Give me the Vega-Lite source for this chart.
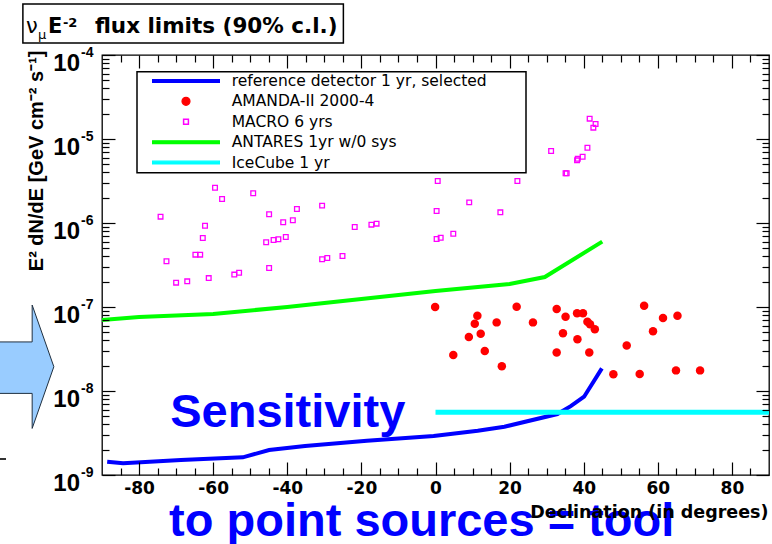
{
  "$schema": "https://vega.github.io/schema/vega-lite/v6.json",
  "width": 667,
  "height": 420,
  "autosize": {"type": "none"},
  "padding": {"left": 102, "top": 55, "right": 3, "bottom": 69},
  "background": "white",
  "datasets": {
    "ref": [
      {"series": "reference detector 1 yr, selected", "dec": -88.6, "flux": 1.439e-9},
      {"series": "reference detector 1 yr, selected", "dec": -84.3, "flux": 1.377e-9},
      {"series": "reference detector 1 yr, selected", "dec": -68.7, "flux": 1.51e-9},
      {"series": "reference detector 1 yr, selected", "dec": -52, "flux": 1.622e-9},
      {"series": "reference detector 1 yr, selected", "dec": -44.9, "flux": 1.986e-9},
      {"series": "reference detector 1 yr, selected", "dec": -35.2, "flux": 2.213e-9},
      {"series": "reference detector 1 yr, selected", "dec": -18.5, "flux": 2.564e-9},
      {"series": "reference detector 1 yr, selected", "dec": -0.5, "flux": 2.911e-9},
      {"series": "reference detector 1 yr, selected", "dec": 11.4, "flux": 3.373e-9},
      {"series": "reference detector 1 yr, selected", "dec": 18.6, "flux": 3.758e-9},
      {"series": "reference detector 1 yr, selected", "dec": 32.9, "flux": 5.32e-9},
      {"series": "reference detector 1 yr, selected", "dec": 36.5, "flux": 6.6e-9},
      {"series": "reference detector 1 yr, selected", "dec": 40.1, "flux": 8.55e-9},
      {"series": "reference detector 1 yr, selected", "dec": 44.9, "flux": 1.862e-8}
    ],
    "antares": [
      {"series": "ANTARES 1yr w/0 sys", "dec": -90, "flux": 7.0e-8},
      {"series": "ANTARES 1yr w/0 sys", "dec": -80, "flux": 7.6e-8},
      {"series": "ANTARES 1yr w/0 sys", "dec": -60, "flux": 8.26e-8},
      {"series": "ANTARES 1yr w/0 sys", "dec": -40, "flux": 1.0e-7},
      {"series": "ANTARES 1yr w/0 sys", "dec": -20, "flux": 1.245e-7},
      {"series": "ANTARES 1yr w/0 sys", "dec": 0, "flux": 1.549e-7},
      {"series": "ANTARES 1yr w/0 sys", "dec": 20, "flux": 1.879e-7},
      {"series": "ANTARES 1yr w/0 sys", "dec": 29.5, "flux": 2.275e-7},
      {"series": "ANTARES 1yr w/0 sys", "dec": 45, "flux": 6.0e-7}
    ],
    "icecube": [
      {"series": "IceCube 1 yr", "dec": 0, "flux": 5.57e-9},
      {"series": "IceCube 1 yr", "dec": 90, "flux": 5.57e-9}
    ],
    "amanda": [
      {"series": "AMANDA-II 2000-4", "dec": -0.1, "flux": 1.0e-7},
      {"series": "AMANDA-II 2000-4", "dec": 11.3, "flux": 7.87e-8},
      {"series": "AMANDA-II 2000-4", "dec": 10.6, "flux": 6.32e-8},
      {"series": "AMANDA-II 2000-4", "dec": 16.5, "flux": 6.56e-8},
      {"series": "AMANDA-II 2000-4", "dec": 21.9, "flux": 1.009e-7},
      {"series": "AMANDA-II 2000-4", "dec": 26.3, "flux": 6.56e-8},
      {"series": "AMANDA-II 2000-4", "dec": 9.0, "flux": 4.40e-8},
      {"series": "AMANDA-II 2000-4", "dec": 12.2, "flux": 4.81e-8},
      {"series": "AMANDA-II 2000-4", "dec": 4.8, "flux": 2.69e-8},
      {"series": "AMANDA-II 2000-4", "dec": 13.3, "flux": 2.99e-8},
      {"series": "AMANDA-II 2000-4", "dec": 17.9, "flux": 1.97e-8},
      {"series": "AMANDA-II 2000-4", "dec": 32.7, "flux": 9.46e-8},
      {"series": "AMANDA-II 2000-4", "dec": 35.1, "flux": 7.67e-8},
      {"series": "AMANDA-II 2000-4", "dec": 38.2, "flux": 8.41e-8},
      {"series": "AMANDA-II 2000-4", "dec": 39.8, "flux": 8.41e-8},
      {"series": "AMANDA-II 2000-4", "dec": 41.0, "flux": 6.68e-8},
      {"series": "AMANDA-II 2000-4", "dec": 41.7, "flux": 6.22e-8},
      {"series": "AMANDA-II 2000-4", "dec": 43.0, "flux": 5.42e-8},
      {"series": "AMANDA-II 2000-4", "dec": 34.4, "flux": 4.86e-8},
      {"series": "AMANDA-II 2000-4", "dec": 38.3, "flux": 4.12e-8},
      {"series": "AMANDA-II 2000-4", "dec": 32.7, "flux": 2.88e-8},
      {"series": "AMANDA-II 2000-4", "dec": 41.5, "flux": 2.88e-8},
      {"series": "AMANDA-II 2000-4", "dec": 56.3, "flux": 1.038e-7},
      {"series": "AMANDA-II 2000-4", "dec": 61.4, "flux": 7.40e-8},
      {"series": "AMANDA-II 2000-4", "dec": 65.3, "flux": 7.87e-8},
      {"series": "AMANDA-II 2000-4", "dec": 58.7, "flux": 5.13e-8},
      {"series": "AMANDA-II 2000-4", "dec": 51.6, "flux": 3.47e-8},
      {"series": "AMANDA-II 2000-4", "dec": 48.0, "flux": 1.58e-8},
      {"series": "AMANDA-II 2000-4", "dec": 55.1, "flux": 1.59e-8},
      {"series": "AMANDA-II 2000-4", "dec": 64.9, "flux": 1.76e-8},
      {"series": "AMANDA-II 2000-4", "dec": 71.4, "flux": 1.76e-8}
    ],
    "macro": [
      {"series": "MACRO 6 yrs", "dec": -59.5, "flux": 2.63e-6},
      {"series": "MACRO 6 yrs", "dec": -57.6, "flux": 1.93e-6},
      {"series": "MACRO 6 yrs", "dec": -49.2, "flux": 2.26e-6},
      {"series": "MACRO 6 yrs", "dec": -74.2, "flux": 1.19e-6},
      {"series": "MACRO 6 yrs", "dec": -44.9, "flux": 1.27e-6},
      {"series": "MACRO 6 yrs", "dec": -37.4, "flux": 1.47e-6},
      {"series": "MACRO 6 yrs", "dec": -30.6, "flux": 1.61e-6},
      {"series": "MACRO 6 yrs", "dec": -62.2, "flux": 9.29e-7},
      {"series": "MACRO 6 yrs", "dec": -41.1, "flux": 1.02e-6},
      {"series": "MACRO 6 yrs", "dec": -38.5, "flux": 1.08e-6},
      {"series": "MACRO 6 yrs", "dec": -21.8, "flux": 8.95e-7},
      {"series": "MACRO 6 yrs", "dec": -17.3, "flux": 9.55e-7},
      {"series": "MACRO 6 yrs", "dec": -15.9, "flux": 9.82e-7},
      {"series": "MACRO 6 yrs", "dec": -62.8, "flux": 6.62e-7},
      {"series": "MACRO 6 yrs", "dec": -45.7, "flux": 5.89e-7},
      {"series": "MACRO 6 yrs", "dec": -43.7, "flux": 6.28e-7},
      {"series": "MACRO 6 yrs", "dec": -42.4, "flux": 6.40e-7},
      {"series": "MACRO 6 yrs", "dec": -40.4, "flux": 6.81e-7},
      {"series": "MACRO 6 yrs", "dec": -64.8, "flux": 4.20e-7},
      {"series": "MACRO 6 yrs", "dec": -63.5, "flux": 4.20e-7},
      {"series": "MACRO 6 yrs", "dec": -72.6, "flux": 3.50e-7},
      {"series": "MACRO 6 yrs", "dec": -30.6, "flux": 3.70e-7},
      {"series": "MACRO 6 yrs", "dec": -29.2, "flux": 3.83e-7},
      {"series": "MACRO 6 yrs", "dec": -25.1, "flux": 4.05e-7},
      {"series": "MACRO 6 yrs", "dec": -44.9, "flux": 2.91e-7},
      {"series": "MACRO 6 yrs", "dec": -70.0, "flux": 1.95e-7},
      {"series": "MACRO 6 yrs", "dec": -67.0, "flux": 2.02e-7},
      {"series": "MACRO 6 yrs", "dec": -61.2, "flux": 2.21e-7},
      {"series": "MACRO 6 yrs", "dec": -54.3, "flux": 2.43e-7},
      {"series": "MACRO 6 yrs", "dec": -53.0, "flux": 2.56e-7},
      {"series": "MACRO 6 yrs", "dec": 41.6, "flux": 1.746e-5},
      {"series": "MACRO 6 yrs", "dec": 43.2, "flux": 1.51e-5},
      {"series": "MACRO 6 yrs", "dec": 42.6, "flux": 1.365e-5},
      {"series": "MACRO 6 yrs", "dec": 41.0, "flux": 7.87e-6},
      {"series": "MACRO 6 yrs", "dec": 31.2, "flux": 7.19e-6},
      {"series": "MACRO 6 yrs", "dec": 39.7, "flux": 6.15e-6},
      {"series": "MACRO 6 yrs", "dec": 38.4, "flux": 5.82e-6},
      {"series": "MACRO 6 yrs", "dec": 38.2, "flux": 5.57e-6},
      {"series": "MACRO 6 yrs", "dec": 35.1, "flux": 3.91e-6},
      {"series": "MACRO 6 yrs", "dec": 35.4, "flux": 3.91e-6},
      {"series": "MACRO 6 yrs", "dec": 0.6, "flux": 3.16e-6},
      {"series": "MACRO 6 yrs", "dec": 22.1, "flux": 3.16e-6},
      {"series": "MACRO 6 yrs", "dec": 9.1, "flux": 1.76e-6},
      {"series": "MACRO 6 yrs", "dec": 0.3, "flux": 1.39e-6},
      {"series": "MACRO 6 yrs", "dec": 17.5, "flux": 1.34e-6},
      {"series": "MACRO 6 yrs", "dec": 4.8, "flux": 7.46e-7},
      {"series": "MACRO 6 yrs", "dec": 0.3, "flux": 6.46e-7},
      {"series": "MACRO 6 yrs", "dec": 1.4, "flux": 6.68e-7}
    ],
    "ylab": [
      {"flux": 1e-4, "base": "10", "exp": "-4"},
      {"flux": 1e-5, "base": "10", "exp": "-5"},
      {"flux": 1e-6, "base": "10", "exp": "-6"},
      {"flux": 1e-7, "base": "10", "exp": "-7"},
      {"flux": 1e-8, "base": "10", "exp": "-8"},
      {"flux": 1e-9, "base": "10", "exp": "-9"}
    ],
    "annot": [
      {"dec": -71.6, "flux": 3.73e-9, "label": "Sensitivity"},
      {"dec": -71.9, "flux": 1.88e-10, "label": "to point sources = tool"}
    ],
    "tbox": [
      {"x1": -111.35, "x2": -24.86, "y1": 4.05e-4, "y2": 1.39e-4}
    ],
    "arrow": [
      {"dec": -110.27, "flux": 1.945e-8}
    ],
    "dash": [
      {"dec": -117.8, "dec2": -115.9, "flux": 1.55e-9}
    ]
  },
  "layer": [
    {
      "data": {"name": "ref"},
      "mark": {"type": "line", "strokeWidth": 4},
      "encoding": {
        "x": {"field": "dec", "type": "quantitative", "scale": {"domain": [-90, 90], "nice": false, "zero": false},
          "axis": {"orient": "bottom", "offset": -13, "values": [-80, -60, -40, -20, 0, 20, 40, 60, 80], "ticks": true, "tickSize": 13, "tickColor": "#000000", "tickOpacity": 1, "tickWidth": 1.2, "zindex": 1, "domain": false, "labels": true, "labelExpr": "'' + datum.value", "labelFont": "DejaVu Sans", "labelFontWeight": "bold", "labelFontSize": 17, "labelColor": "#000", "labelPadding": 5, "labelFlush": false, "labelOverlap": false, "grid": false,
            "title": "Declination (in degrees)", "titleFont": "DejaVu Sans", "titleFontWeight": "bold", "titleFontSize": 17.5, "titleColor": "#000", "titleAlign": "right", "titleBaseline": "alphabetic", "titleX": 666, "titleY": 55}},
        "y": {"field": "flux", "type": "quantitative", "scale": {"type": "log", "domain": [1e-9, 1e-4], "nice": false},
          "axis": {"orient": "left", "offset": -13, "values": [1e-9, 1e-8, 1e-7, 1e-6, 1e-5, 1e-4], "ticks": true, "tickSize": 13, "tickColor": "#000000", "tickOpacity": 1, "tickWidth": 1.2, "zindex": 1, "domain": false, "labels": false, "grid": false,
            "title": "E² dN/dE [GeV cm⁻² s⁻¹]", "titleFont": "Liberation Sans", "titleFontWeight": "bold", "titleFontSize": 20, "titleColor": "#000", "titleAngle": 270, "titleAlign": "right", "titleBaseline": "middle", "titleX": -79, "titleY": -5}},
        "color": {"field": "series", "type": "nominal",
          "scale": {"domain": ["reference detector 1 yr, selected", "AMANDA-II 2000-4", "MACRO 6 yrs", "ANTARES 1yr w/0 sys", "IceCube 1 yr"], "range": ["#0000ff", "#ff0000", "#ff00ff", "#00ff00", "#00ffff"]},
          "legend": {
            "orient": "none", "legendX": 35, "legendY": 16.7,
            "title": "\u00a0", "titleOrient": "right", "titleFontSize": 2, "titlePadding": 38,
            "padding": 1.5, "strokeColor": "#000", "fillColor": "#ffffff",
            "symbolSize": 100, "symbolStrokeWidth": 1.2, "symbolOffset": 39.75, "labelOffset": 38,
            "rowPadding": 3.4, "labelFont": "DejaVu Sans", "labelFontSize": 15.5, "labelColor": "#000", "labelLimit": 500,
            "encoding": {
              "legend": {"strokeWidth": {"value": 1.5}},
              "symbols": {
                "shape": {"condition": [
                  {"test": "datum.value === 'AMANDA-II 2000-4'", "value": "M0.8,0A0.8,0.8,0,1,1,-0.8,0A0.8,0.8,0,1,1,0.8,0Z"},
                  {"test": "datum.value === 'MACRO 6 yrs'", "value": "M-0.51,-0.51H0.51V0.51H-0.51Z M-0.45,-0.45V0.45H0.45V-0.45Z"}
                ], "value": "M-6.68,-0.28H6.68V0.28H-6.68Z"},
                "fill": {"condition": [
                  {"test": "datum.value === 'MACRO 6 yrs'", "value": "#ffffff"},
                  {"test": "datum.value === 'AMANDA-II 2000-4'", "value": "#ff0000"},
                  {"test": "datum.value === 'ANTARES 1yr w/0 sys'", "value": "#00ff00"},
                  {"test": "datum.value === 'IceCube 1 yr'", "value": "#00ffff"}
                ], "value": "#0000ff"},
                "stroke": {"condition": [
                  {"test": "datum.value === 'MACRO 6 yrs'", "value": "#ff00ff"},
                  {"test": "datum.value === 'AMANDA-II 2000-4'", "value": "#ff0000"},
                  {"test": "datum.value === 'ANTARES 1yr w/0 sys'", "value": "#00ff00"},
                  {"test": "datum.value === 'IceCube 1 yr'", "value": "#00ffff"}
                ], "value": "#0000ff"},
                "strokeWidth": {"value": 1.2},
                "size": {"value": 100},
                "opacity": {"value": 1},
                "fillOpacity": {"value": 1},
                "strokeOpacity": {"value": 1}
              }
            }
          }
        }
      }
    },
    {
      "data": {"name": "antares"},
      "mark": {"type": "line", "strokeWidth": 4},
      "encoding": {
        "x": {"field": "dec", "type": "quantitative", "scale": {"domain": [-90, 90], "nice": false, "zero": false},
          "axis": {"orient": "bottom", "offset": -7, "values": [-85, -75, -70, -65, -55, -50, -45, -35, -30, -25, -15, -10, -5, 5, 10, 15, 25, 30, 35, 45, 50, 55, 65, 70, 75, 85], "ticks": true, "tickSize": 7, "tickColor": "#000000", "tickOpacity": 1, "tickWidth": 1.2, "zindex": 1, "domain": false, "labels": false, "grid": false, "title": null}},
        "y": {"field": "flux", "type": "quantitative", "scale": {"type": "log", "domain": [1e-9, 1e-4], "nice": false},
          "axis": {"orient": "left", "offset": -7, "values": [2e-9, 3e-9, 4e-9, 5e-9, 6e-9, 7e-9, 8e-9, 9e-9, 2e-8, 3e-8, 4e-8, 5e-8, 6e-8, 7e-8, 8e-8, 9e-8, 2e-7, 3e-7, 4e-7, 5e-7, 6e-7, 7e-7, 8e-7, 9e-7, 2e-6, 3e-6, 4e-6, 5e-6, 6e-6, 7e-6, 8e-6, 9e-6, 2e-5, 3e-5, 4e-5, 5e-5, 6e-5, 7e-5, 8e-5, 9e-5], "ticks": true, "tickSize": 7, "tickColor": "#000000", "tickOpacity": 1, "tickWidth": 1.2, "zindex": 1, "domain": false, "labels": false, "grid": false, "title": null}},
        "color": {"field": "series", "type": "nominal", "legend": null}
      }
    },
    {
      "data": {"name": "icecube"},
      "mark": {"type": "line", "strokeWidth": 5},
      "encoding": {
        "x": {"field": "dec", "type": "quantitative", "scale": {"domain": [-90, 90], "nice": false, "zero": false},
          "axis": {"orient": "top", "offset": -13, "values": [-80, -60, -40, -20, 0, 20, 40, 60, 80], "ticks": true, "tickSize": 13, "tickColor": "#000000", "tickOpacity": 1, "tickWidth": 1.2, "zindex": 1, "domain": false, "labels": false, "grid": false, "title": null}},
        "y": {"field": "flux", "type": "quantitative", "scale": {"type": "log", "domain": [1e-9, 1e-4], "nice": false},
          "axis": {"orient": "right", "offset": -13, "values": [1e-9, 1e-8, 1e-7, 1e-6, 1e-5, 1e-4], "ticks": true, "tickSize": 13, "tickColor": "#000000", "tickOpacity": 1, "tickWidth": 1.2, "zindex": 1, "domain": false, "labels": false, "grid": false, "title": null}},
        "color": {"field": "series", "type": "nominal", "legend": null}
      }
    },
    {
      "data": {"name": "amanda"},
      "mark": {"type": "point", "shape": "circle", "filled": true, "size": 72, "opacity": 1},
      "encoding": {
        "x": {"field": "dec", "type": "quantitative", "scale": {"domain": [-90, 90], "nice": false, "zero": false},
          "axis": {"orient": "top", "offset": -7, "values": [-85, -75, -70, -65, -55, -50, -45, -35, -30, -25, -15, -10, -5, 5, 10, 15, 25, 30, 35, 45, 50, 55, 65, 70, 75, 85], "ticks": true, "tickSize": 7, "tickColor": "#000000", "tickOpacity": 1, "tickWidth": 1.2, "zindex": 1, "domain": false, "labels": false, "grid": false, "title": null}},
        "y": {"field": "flux", "type": "quantitative", "scale": {"type": "log", "domain": [1e-9, 1e-4], "nice": false},
          "axis": {"orient": "right", "offset": -7, "values": [2e-9, 3e-9, 4e-9, 5e-9, 6e-9, 7e-9, 8e-9, 9e-9, 2e-8, 3e-8, 4e-8, 5e-8, 6e-8, 7e-8, 8e-8, 9e-8, 2e-7, 3e-7, 4e-7, 5e-7, 6e-7, 7e-7, 8e-7, 9e-7, 2e-6, 3e-6, 4e-6, 5e-6, 6e-6, 7e-6, 8e-6, 9e-6, 2e-5, 3e-5, 4e-5, 5e-5, 6e-5, 7e-5, 8e-5, 9e-5], "ticks": true, "tickSize": 7, "tickColor": "#000000", "tickOpacity": 1, "tickWidth": 1.2, "zindex": 1, "domain": false, "labels": false, "grid": false, "title": null}},
        "color": {"field": "series", "type": "nominal", "legend": null}
      }
    },
    {
      "data": {"name": "macro"},
      "mark": {"type": "point", "shape": "square", "filled": false, "size": 22, "strokeWidth": 1.3, "opacity": 1},
      "encoding": {
        "x": {"field": "dec", "type": "quantitative", "axis": null},
        "y": {"field": "flux", "type": "quantitative", "axis": null},
        "color": {"field": "series", "type": "nominal", "legend": null}
      }
    },
    {
      "data": {"name": "arrow"},
      "mark": {"type": "point", "shape": "M-0.7,-0.4L0.085,-0.4L0.085,-0.995L0.435,0L0.085,0.995L0.085,0.43L-0.7,0.43Z", "size": 15376, "filled": true, "fill": "#99ccff", "stroke": "#203040", "strokeWidth": 1, "opacity": 1},
      "encoding": {
        "x": {"field": "dec", "type": "quantitative", "axis": null},
        "y": {"field": "flux", "type": "quantitative", "axis": null}
      }
    },
    {
      "data": {"name": "dash"},
      "mark": {"type": "rule", "stroke": "#333333", "strokeWidth": 2},
      "encoding": {
        "x": {"field": "dec", "type": "quantitative", "axis": null},
        "x2": {"field": "dec2"},
        "y": {"field": "flux", "type": "quantitative", "axis": null}
      }
    },
    {
      "data": {"name": "tbox"},
      "mark": {"type": "rect", "fill": "#ffffff", "stroke": "#000000", "strokeWidth": 1.5},
      "encoding": {
        "x": {"field": "x1", "type": "quantitative", "axis": null},
        "x2": {"field": "x2"},
        "y": {"field": "y1", "type": "quantitative", "axis": null},
        "y2": {"field": "y2"}
      }
    },
    {
      "data": {"name": "tbox"},
      "mark": {"type": "text", "text": "ν", "font": "DejaVu Sans", "fontSize": 21, "align": "left", "baseline": "alphabetic", "dx": 3, "dy": -10, "color": "#000"},
      "encoding": {
        "x": {"field": "x1", "type": "quantitative", "axis": null},
        "y": {"field": "y2", "type": "quantitative", "axis": null}
      }
    },
    {
      "data": {"name": "tbox"},
      "mark": {"type": "text", "text": "μ", "font": "DejaVu Sans", "fontSize": 13, "align": "left", "baseline": "alphabetic", "dx": 15, "dy": -4, "color": "#000"},
      "encoding": {
        "x": {"field": "x1", "type": "quantitative", "axis": null},
        "y": {"field": "y2", "type": "quantitative", "axis": null}
      }
    },
    {
      "data": {"name": "tbox"},
      "mark": {"type": "text", "text": "E", "font": "DejaVu Sans", "fontWeight": "bold", "fontSize": 21, "align": "left", "baseline": "alphabetic", "dx": 25, "dy": -10, "color": "#000"},
      "encoding": {
        "x": {"field": "x1", "type": "quantitative", "axis": null},
        "y": {"field": "y2", "type": "quantitative", "axis": null}
      }
    },
    {
      "data": {"name": "tbox"},
      "mark": {"type": "text", "text": "-2", "font": "DejaVu Sans", "fontWeight": "bold", "fontSize": 13, "align": "left", "baseline": "alphabetic", "dx": 40, "dy": -16, "color": "#000"},
      "encoding": {
        "x": {"field": "x1", "type": "quantitative", "axis": null},
        "y": {"field": "y2", "type": "quantitative", "axis": null}
      }
    },
    {
      "data": {"name": "tbox"},
      "mark": {"type": "text", "text": "flux limits (90% c.l.)", "font": "DejaVu Sans", "fontWeight": "bold", "fontSize": 21.5, "align": "left", "baseline": "alphabetic", "dx": 72, "dy": -10, "color": "#000"},
      "encoding": {
        "x": {"field": "x1", "type": "quantitative", "axis": null},
        "y": {"field": "y2", "type": "quantitative", "axis": null}
      }
    },
    {
      "data": {"name": "ylab"},
      "mark": {"type": "text", "font": "Liberation Sans", "fontWeight": "bold", "fontSize": 24, "align": "right", "baseline": "alphabetic", "dx": -22, "dy": 16, "color": "#000"},
      "encoding": {
        "x": {"datum": -90, "type": "quantitative", "axis": null},
        "y": {"field": "flux", "type": "quantitative", "axis": null},
        "text": {"field": "base"}
      }
    },
    {
      "data": {"name": "ylab"},
      "mark": {"type": "text", "font": "Liberation Sans", "fontWeight": "bold", "fontSize": 14, "align": "left", "baseline": "alphabetic", "dx": -21, "dy": 1.5, "color": "#000"},
      "encoding": {
        "x": {"datum": -90, "type": "quantitative", "axis": null},
        "y": {"field": "flux", "type": "quantitative", "axis": null},
        "text": {"field": "exp"}
      }
    },
    {
      "data": {"name": "annot"},
      "mark": {"type": "text", "font": "Liberation Sans", "fontWeight": "bold", "fontSize": 47, "align": "left", "baseline": "alphabetic", "color": "#0000ff"},
      "encoding": {
        "x": {"field": "dec", "type": "quantitative", "axis": null},
        "y": {"field": "flux", "type": "quantitative", "axis": null},
        "text": {"field": "label"}
      }
    }
  ],
  "resolve": {"axis": {"x": "independent", "y": "independent"}},
  "config": {
    "view": {"stroke": "#000000", "strokeWidth": 1.3},
    "axis": {"grid": false}
  }
}
